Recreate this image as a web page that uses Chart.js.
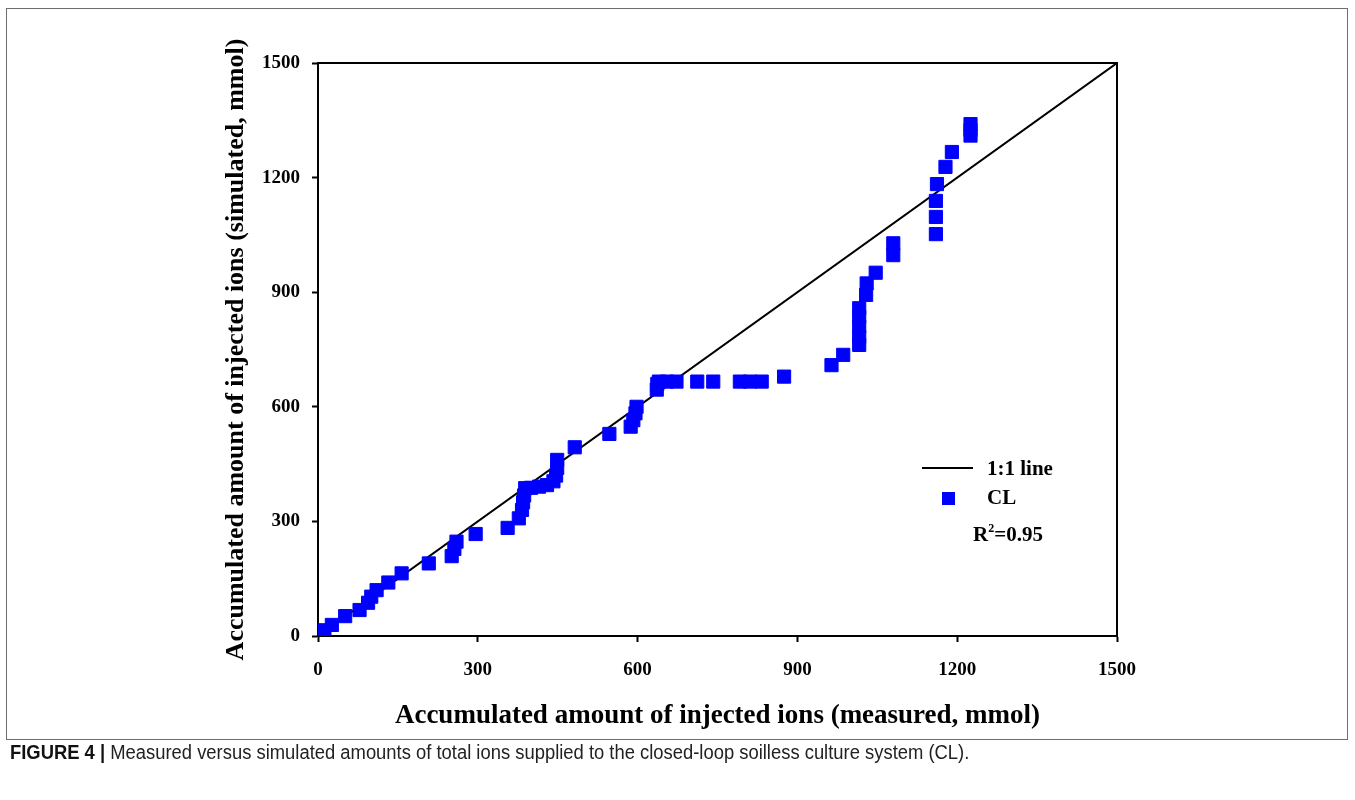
<!DOCTYPE html>
<html>
<head>
<meta charset="utf-8">
<script src="https://cdn.jsdelivr.net/npm/chart.js@4/dist/chart.umd.min.js"></script>
<style>
  html, body { margin: 0; padding: 0; background: #fff; }
  #wrap { position: relative; width: 1355px; height: 800px; overflow: hidden; }
  #c { position: absolute; left: 0; top: 0; }
  #frame { position: absolute; left: 6px; top: 8px; width: 1342px; height: 732px; border: 1.5px solid #6e6e6e; box-sizing: border-box; }
  .leg { position: absolute; font-family: "Liberation Serif", "Times New Roman", serif; font-weight: bold; font-size: 21px; color: #000; line-height: 1; white-space: nowrap; }
  #caption { position: absolute; left: 10px; top: 741px; font-family: "Liberation Sans Narrow", "Liberation Sans", Arial, sans-serif; font-size: 20px; color: #222; white-space: nowrap; transform: scaleX(0.92); transform-origin: 0 0; }
  #caption b { color: #111; }
</style>
</head>
<body>
<div id="wrap">
  <canvas id="c" width="1355" height="800"></canvas>
  <div id="frame"></div>
  <div id="legLine" style="position:absolute;left:922px;top:467px;width:51px;height:2px;background:#000;"></div>
  <div class="leg" style="left:987px;top:458px;">1:1 line</div>
  <div id="legMark" style="position:absolute;left:942px;top:492px;width:13px;height:13px;background:#0000ff;"></div>
  <div class="leg" style="left:987px;top:487px;">CL</div>
  <div class="leg" style="left:973px;top:524px;">R<sup style="font-size:12px;vertical-align:9px;line-height:0;">2</sup>=0.95</div>
  <div id="caption"><b>FIGURE 4 |</b> Measured versus simulated amounts of total ions supplied to the closed-loop soilless culture system (CL).</div>
</div>
<script>
// ---- data ----
const measured = [0, 5, 12, 26, 51, 78, 94, 100, 110, 132, 157, 208, 251, 256, 260, 296,
  356, 377, 383, 385, 387, 389, 400, 415, 430, 442, 447, 449, 449, 482, 547, 587, 592, 596, 598,
  636, 637, 640, 655, 673, 712, 742, 792, 811, 833, 875, 964, 986,
  1016, 1016, 1016, 1016, 1016, 1029, 1030, 1047, 1080, 1080,
  1160, 1160, 1160, 1162, 1178, 1190, 1225, 1225, 1225];
const simulated = [0, 5, 15, 29, 52, 68, 87, 103, 120, 140, 164, 190, 209, 228, 247, 267,
  283, 308, 330, 350, 368, 387, 388, 391, 395, 405, 420, 440, 461, 494, 529, 548, 565, 583, 600,
  645, 660, 666, 666, 666, 666, 666, 666, 666, 666, 679, 709, 736,
  762, 783, 810, 836, 858, 893, 923, 951, 997, 1028,
  1052, 1097, 1139, 1183, 1228, 1267, 1310, 1325, 1340];
const oneToOne = [0, 1500];
const axisMin = 0, axisMax = 1500, axisStep = 300;
const xTitle = 'Accumulated amount of injected ions (measured, mmol)';
const yTitle = 'Accumulated amount of injected ions (simulated, mmol)';

const clPoints = measured.map((m, i) => ({ x: m, y: simulated[i] }));
const linePoints = oneToOne.map(v => ({ x: v, y: v }));

const serif = '"Liberation Serif", "Times New Roman", serif';

const boxPlugin = {
  id: 'box',
  afterDraw(chart) {
    const { ctx, chartArea: a } = chart;
    ctx.save();
    ctx.strokeStyle = '#000';
    ctx.lineWidth = 2;
    ctx.beginPath();
    ctx.moveTo(a.left, a.top);
    ctx.lineTo(a.right, a.top);
    ctx.lineTo(a.right, a.bottom);
    ctx.stroke();
    ctx.restore();
  }
};

const plain = v => String(v);

new Chart(document.getElementById('c'), {
  type: 'scatter',
  data: {
    datasets: [
      {
        type: 'line',
        label: '1:1 line',
        data: linePoints,
        borderColor: '#000',
        borderWidth: 2,
        pointRadius: 0,
        fill: false,
        order: 2
      },
      {
        label: 'CL',
        data: clPoints,
        pointStyle: 'rect',
        pointRadius: 9.3,
        pointBackgroundColor: '#0000ff',
        pointBorderColor: '#0000ff',
        pointBorderWidth: 1,
        order: 1
      }
    ]
  },
  options: {
    responsive: false,
    animation: false,
    devicePixelRatio: 1,
    layout: { padding: { left: 221, right: 238, top: 63, bottom: 68 } },
    plugins: { legend: { display: false }, tooltip: { enabled: false } },
    scales: {
      x: {
        type: 'linear',
        min: axisMin, max: axisMax,
        afterFit(s) { s.height = 96; },
        ticks: { stepSize: axisStep, color: '#000', padding: 17, maxRotation: 0, callback: plain,
          font: { family: serif, weight: 'bold', size: 19 } },
        grid: { display: true, drawOnChartArea: false, tickLength: 6, tickColor: '#000', tickWidth: 2 },
        border: { display: true, color: '#000', width: 2 },
        title: { display: true, text: xTitle, color: '#000', padding: 0,
          font: { family: serif, weight: 'bold', size: 27 } }
      },
      y: {
        type: 'linear',
        min: axisMin, max: axisMax,
        afterFit(s) { s.width = 97; },
        ticks: { stepSize: axisStep, color: '#000', padding: 12, callback: plain,
          font: { family: serif, weight: 'bold', size: 19 } },
        grid: { display: true, drawOnChartArea: false, tickLength: 6, tickColor: '#000', tickWidth: 2 },
        border: { display: true, color: '#000', width: 2 },
        title: { display: true, text: yTitle, color: '#000', padding: 0,
          font: { family: serif, weight: 'bold', size: 26 } }
      }
    }
  },
  plugins: [boxPlugin]
});
</script>
</body>
</html>
